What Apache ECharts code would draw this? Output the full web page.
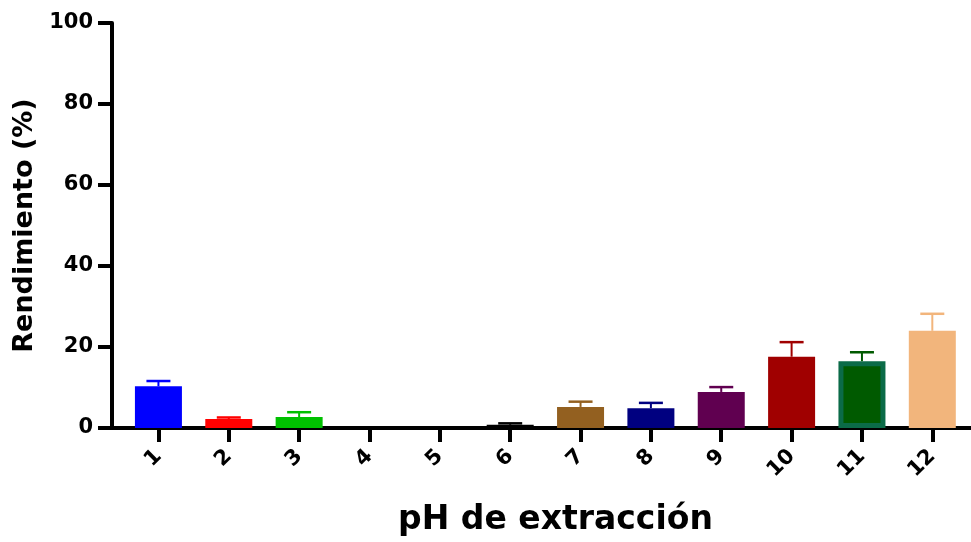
<!DOCTYPE html>
<html>
<head>
<meta charset="utf-8">
<script src="https://cdn.jsdelivr.net/npm/echarts@6/dist/echarts.min.js"></script>
<style>
  html, body { margin: 0; padding: 0; background: #ffffff; }
  #chart { width: 971px; height: 542px; }
</style>
</head>
<body>
<div id="chart"></div>
<script>
// pH values on the x axis
const phLevels = [1, 2, 3, 4, 5, 6, 7, 8, 9, 10, 11, 12];
// mean extraction yield (%)
const yieldMean = [10.3, 2.2, 2.7, 0, 0, 0.8, 5.2, 4.9, 8.9, 17.6, 16.5, 24.0];
// upper error (SD)
const yieldErr = [1.3, 0.4, 1.2, 0, 0, 0.35, 1.3, 1.3, 1.2, 3.6, 2.2, 4.2];
// bar fill colours
const barColors = ['#0000ff', '#ff0000', '#00c000', '#808080', '#808080', '#000000',
                   '#936020', '#000080', '#600050', '#a00000', '#005a00', '#f2b57c'];
// y-axis tick labels
const yTicks = [0, 20, 40, 60, 80, 100];

const FONT = 'DejaVu Sans';

const chart = echarts.init(document.getElementById('chart'), null, { renderer: 'canvas' });

const barData = phLevels.map((p, i) => {
  const item = { value: [p, yieldMean[i]], itemStyle: { color: barColors[i] } };
  if (p === 11) {
    item.itemStyle.borderColor = '#0b6b48';
    item.itemStyle.borderWidth = 5;
  }
  return item;
});

const errData = phLevels.map((p, i) => [p, yieldMean[i], yieldMean[i] + yieldErr[i], i]);

chart.setOption({
  animation: false,
  backgroundColor: '#ffffff',
  grid: { left: 112, right: 0, top: 23, bottom: 111, containLabel: false },
  xAxis: {
    type: 'value',
    min: 0.34,
    max: 12.55,
    name: 'pH de extracción',
    nameLocation: 'middle',
    nameGap: 76,
    nameTextStyle: { fontFamily: FONT, fontWeight: 'bold', fontSize: 33, color: '#000', padding: [0, 0, 0, 28] },
    axisLine: { show: true, onZero: false, lineStyle: { color: '#000', width: 4 } },
    axisTick: { show: true, length: 14, lineStyle: { color: '#000', width: 4 }, customValues: phLevels },
    axisLabel: {
      customValues: phLevels,
      rotate: 45,
      margin: 25,
      fontFamily: FONT, fontWeight: 'bold', fontSize: 21, color: '#000'
    },
    splitLine: { show: false }
  },
  yAxis: {
    type: 'value',
    min: 0,
    max: 100,
    interval: 20,
    name: 'Rendimiento (%)',
    nameLocation: 'middle',
    nameRotate: 90,
    nameGap: 73,
    nameTextStyle: { fontFamily: FONT, fontWeight: 'bold', fontSize: 27, color: '#000' },
    axisLine: { show: true, lineStyle: { color: '#000', width: 4 } },
    axisTick: { show: true, length: 14, lineStyle: { color: '#000', width: 4 } },
    axisLabel: {
      customValues: yTicks,
      margin: 19,
      fontFamily: FONT, fontWeight: 'bold', fontSize: 21, color: '#000'
    },
    splitLine: { show: false }
  },
  series: [
    {
      type: 'bar',
      data: barData,
      barWidth: 47,
      z: 2
    },
    {
      type: 'custom',
      data: errData,
      z: 3,
      renderItem: function (params, api) {
        const x = api.value(0);
        const lo = api.coord([x, api.value(1)]);
        const hi = api.coord([x, api.value(2)]);
        const col = barColors[api.value(3)];
        const half = 12;
        if (api.value(2) - api.value(1) <= 0) return null;
        return {
          type: 'group',
          children: [
            { type: 'line', shape: { x1: lo[0], y1: lo[1], x2: hi[0], y2: hi[1] },
              style: { stroke: col, lineWidth: 2 } },
            { type: 'line', shape: { x1: hi[0] - half, y1: hi[1], x2: hi[0] + half, y2: hi[1] },
              style: { stroke: col, lineWidth: 2.5 } }
          ]
        };
      }
    }
  ]
});
</script>
</body>
</html>
